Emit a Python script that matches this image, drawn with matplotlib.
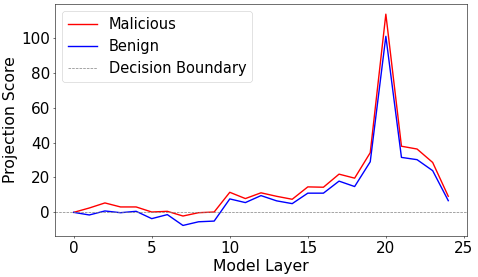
import matplotlib
matplotlib.use("Agg")
import matplotlib.pyplot as plt
import numpy as np

layers = list(range(25))
malicious = [0, 2.5, 5.4, 3.1, 3.1, 0.2, 0.6, -2.1, -0.2, 0.2, 11.5, 7.9, 11.2, 9.2,
             7.5, 14.6, 14.4, 21.9, 19.6, 34.2, 113.6, 37.9, 36.3, 28.6, 9.2]
benign = [0, -1.5, 0.8, -0.2, 0.6, -3.6, -1.3, -7.5, -5.4, -5.0, 7.7, 5.6, 9.6, 6.6,
          5.0, 11.0, 11.0, 17.9, 14.8, 29.0, 100.9, 31.5, 30.2, 23.9, 6.7]

fig = plt.figure(figsize=(9.56, 5.54), dpi=50)
ax = fig.add_axes([0.115, 0.148, 0.862, 0.839])
ax.plot(layers, malicious, color="red", lw=2, label="Malicious")
ax.plot(layers, benign, color="blue", lw=2, label="Benign")
ax.axhline(0, color="gray", ls="--", lw=1, label="Decision Boundary")
ax.set_xlabel("Model Layer", fontsize=22.5)
ax.set_ylabel("Projection Score", fontsize=22.5)
ax.tick_params(labelsize=22)
ax.set_xticks([0, 5, 10, 15, 20, 25])
ax.legend(loc="upper left", fontsize=21)
fig.savefig("out.png", dpi=50)
